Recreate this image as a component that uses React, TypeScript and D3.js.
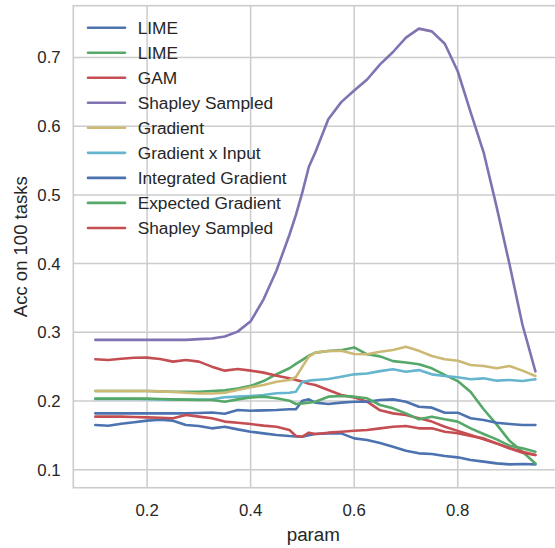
import React from "react";
import * as d3 from "d3";

const params = [0.1, 0.125, 0.15, 0.175, 0.2, 0.225, 0.25, 0.275, 0.3, 0.325, 0.35, 0.375, 0.4, 0.425, 0.45, 0.475, 0.4875, 0.5, 0.5125, 0.525, 0.55, 0.575, 0.6, 0.625, 0.65, 0.675, 0.7, 0.725, 0.75, 0.775, 0.8, 0.825, 0.85, 0.875, 0.9, 0.925, 0.95];

const limeBlue = [0.165, 0.164, 0.167, 0.169, 0.1714, 0.1728, 0.1714, 0.165, 0.1636, 0.1602, 0.1626, 0.1587, 0.1553, 0.1529, 0.1505, 0.149, 0.1485, 0.148, 0.15, 0.152, 0.1529, 0.1529, 0.1456, 0.1432, 0.1388, 0.1335, 0.1277, 0.1238, 0.1228, 0.1199, 0.118, 0.1141, 0.1117, 0.1092, 0.1078, 0.1083, 0.1078];
const limeGreen = [0.2145, 0.2145, 0.2145, 0.2145, 0.2145, 0.214, 0.2135, 0.2135, 0.2135, 0.2145, 0.2155, 0.218, 0.222, 0.229, 0.239, 0.2476, 0.254, 0.26, 0.266, 0.2704, 0.2728, 0.274, 0.278, 0.268, 0.265, 0.258, 0.256, 0.2534, 0.2476, 0.238, 0.229, 0.213, 0.188, 0.166, 0.142, 0.126, 0.109];
const gam = [0.2607, 0.2597, 0.2615, 0.263, 0.2631, 0.2612, 0.2573, 0.2597, 0.2573, 0.25, 0.2442, 0.2466, 0.2442, 0.2413, 0.2369, 0.233, 0.2306, 0.2282, 0.225, 0.2233, 0.216, 0.2087, 0.2053, 0.199, 0.1864, 0.182, 0.1796, 0.1748, 0.17, 0.1626, 0.1565, 0.1505, 0.1442, 0.1383, 0.1311, 0.1262, 0.1214];
const shapleyPurple = [0.289, 0.289, 0.289, 0.289, 0.289, 0.289, 0.289, 0.289, 0.29, 0.291, 0.294, 0.301, 0.316, 0.348, 0.39, 0.442, 0.471, 0.504, 0.541, 0.562, 0.61, 0.635, 0.652, 0.668, 0.69, 0.708, 0.729, 0.742, 0.738, 0.72, 0.68, 0.62, 0.562, 0.483, 0.399, 0.311, 0.243];
const gradient = [0.2145, 0.2145, 0.2145, 0.2145, 0.2145, 0.214, 0.213, 0.212, 0.211, 0.211, 0.212, 0.216, 0.22, 0.2233, 0.228, 0.2306, 0.235, 0.25, 0.2646, 0.2704, 0.2728, 0.273, 0.2684, 0.268, 0.2716, 0.2743, 0.279, 0.273, 0.2655, 0.2607, 0.2587, 0.2524, 0.251, 0.2476, 0.251, 0.2442, 0.2364];
const gradInput = [0.203, 0.203, 0.203, 0.203, 0.2025, 0.2022, 0.202, 0.202, 0.202, 0.2025, 0.2055, 0.2063, 0.2073, 0.2087, 0.2112, 0.212, 0.2136, 0.228, 0.2296, 0.2306, 0.232, 0.2354, 0.2388, 0.24, 0.2435, 0.2461, 0.2427, 0.245, 0.2388, 0.2364, 0.2345, 0.2316, 0.233, 0.2296, 0.2306, 0.229, 0.2316];
const integrated = [0.182, 0.182, 0.182, 0.182, 0.182, 0.182, 0.182, 0.182, 0.1825, 0.1832, 0.1815, 0.1869, 0.1859, 0.1864, 0.1869, 0.1879, 0.188, 0.2005, 0.2024, 0.1976, 0.1956, 0.1976, 0.199, 0.199, 0.2015, 0.2024, 0.199, 0.1917, 0.1903, 0.183, 0.183, 0.1748, 0.1723, 0.1684, 0.1665, 0.165, 0.165];
const expected = [0.2034, 0.2034, 0.2034, 0.2034, 0.2034, 0.203, 0.2024, 0.202, 0.2015, 0.2015, 0.199, 0.2024, 0.2053, 0.2063, 0.2039, 0.2005, 0.1956, 0.1966, 0.1976, 0.199, 0.2063, 0.2073, 0.2063, 0.2039, 0.1942, 0.1893, 0.182, 0.1733, 0.1772, 0.1733, 0.17, 0.1602, 0.152, 0.1442, 0.135, 0.1311, 0.1262];
const shapleyRed = [0.1772, 0.1772, 0.1772, 0.1767, 0.1762, 0.1757, 0.175, 0.1796, 0.1772, 0.1748, 0.17, 0.1684, 0.1665, 0.1641, 0.1626, 0.1578, 0.149, 0.148, 0.1539, 0.152, 0.1539, 0.1553, 0.1568, 0.1578, 0.1602, 0.1626, 0.1636, 0.1602, 0.1602, 0.1553, 0.153, 0.149, 0.1456, 0.1383, 0.1311, 0.1248, 0.1214];

const seriesNames = ["LIME", "LIME", "GAM", "Shapley Sampled", "Gradient", "Gradient x Input", "Integrated Gradient", "Expected Gradient", "Shapley Sampled"];
const seriesValues = [limeBlue, limeGreen, gam, shapleyPurple, gradient, gradInput, integrated, expected, shapleyRed];
const seriesColors = ["#4C72B0", "#55A868", "#C44E52", "#8172B2", "#CCB974", "#64B5CD", "#4C72B0", "#55A868", "#C44E52"];

const xTicks = [0.2, 0.4, 0.6, 0.8];
const yTicks = [0.1, 0.2, 0.3, 0.4, 0.5, 0.6, 0.7];
const xLabel = "param";
const yLabel = "Acc on 100 tasks";

const W = 555;
const H = 548;
const plot = { left: 73.3, top: 5.7, right: 557.4, bottom: 487.7 };
const FONT = "'Liberation Sans', Arial, Helvetica, sans-serif";
const TEXT = "#262626";
const GRID = "#cccccc";

export default function App() {
  const x = d3.scaleLinear().domain([0.0575, 0.9925]).range([plot.left, plot.right]);
  const y = d3.scaleLinear().domain([0.0738, 0.7754]).range([plot.bottom, plot.top]);
  const line = d3
    .line<number>()
    .x((_, i) => x(params[i]))
    .y((d) => y(d));

  return (
    <svg width={W} height={H} style={{ position: "absolute", left: 0, top: 0, background: "#fff" }} fontFamily={FONT}>
      <rect x={0} y={0} width={W} height={H} fill="#fff" />
      {xTicks.map((t) => (
        <line key={"gx" + t} x1={x(t)} x2={x(t)} y1={plot.top} y2={plot.bottom} stroke={GRID} strokeWidth={1.5} />
      ))}
      {yTicks.map((t) => (
        <line key={"gy" + t} x1={plot.left} x2={plot.right} y1={y(t)} y2={y(t)} stroke={GRID} strokeWidth={1.5} />
      ))}
      <rect x={plot.left} y={plot.top} width={plot.right - plot.left} height={plot.bottom - plot.top} fill="none" stroke={GRID} strokeWidth={1.6} />
      {seriesValues.map((vals, i) => (
        <path key={"s" + i} d={line(vals) || ""} fill="none" stroke={seriesColors[i]} strokeWidth={2.6} strokeLinejoin="round" strokeLinecap="round" />
      ))}
      {xTicks.map((t) => (
        <text key={"tx" + t} x={x(t)} y={516} textAnchor="middle" fontSize={16.8} fill={TEXT}>
          {t.toFixed(1)}
        </text>
      ))}
      {yTicks.map((t) => (
        <text key={"ty" + t} x={60.7} y={y(t) + 6} textAnchor="end" fontSize={16.8} fill={TEXT}>
          {t.toFixed(1)}
        </text>
      ))}
      <text x={(plot.left + plot.right) / 2 - 2} y={541} textAnchor="middle" fontSize={18.8} fill={TEXT}>
        {xLabel}
      </text>
      <text transform={`translate(26.5,${(plot.top + plot.bottom) / 2}) rotate(-90)`} textAnchor="middle" fontSize={18.5} fill={TEXT}>
        {yLabel}
      </text>
      {seriesNames.map((name, i) => {
        const cy = 27.7 + i * 25.03;
        return (
          <g key={"lg" + i}>
            <line x1={88} x2={125} y1={cy} y2={cy} stroke={seriesColors[i]} strokeWidth={2.6} strokeLinecap="round" />
            <text x={137.7} y={cy + 6.2} fontSize={17.3} fill={TEXT}>
              {name}
            </text>
          </g>
        );
      })}
    </svg>
  );
}
